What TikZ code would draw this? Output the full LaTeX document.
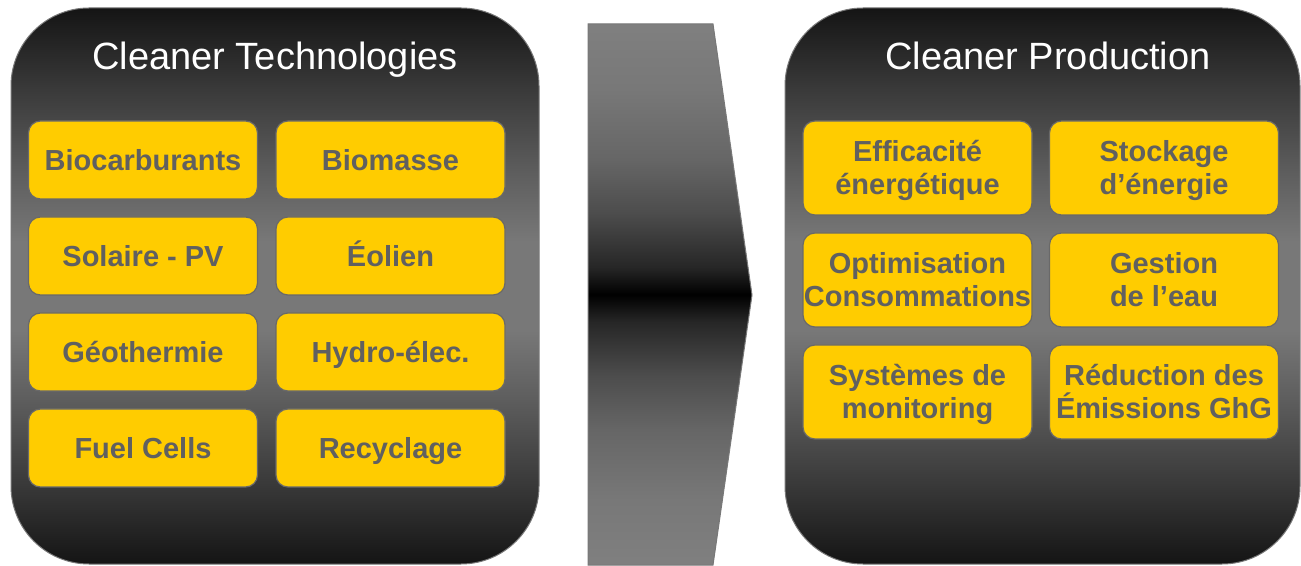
\documentclass[tikz,border=0pt]{standalone}
\usepackage{fontspec}
\setmainfont{Liberation Sans}
\definecolor{cellfill}{RGB}{255,204,0}
\definecolor{celltext}{RGB}{96,96,96}
\definecolor{cellline}{RGB}{105,105,105}
\definecolor{panelline}{RGB}{120,120,120}
\pgfdeclareverticalshading{panelshade}{100bp}{rgb(0bp)=(.08,.08,.08); rgb(25bp)=(.08,.08,.08); rgb(32.5bp)=(.23,.23,.23); rgb(40bp)=(.37,.37,.37); rgb(46bp)=(.47,.47,.47); rgb(54bp)=(.47,.47,.47); rgb(60bp)=(.37,.37,.37); rgb(67.5bp)=(.23,.23,.23); rgb(75bp)=(.08,.08,.08); rgb(100bp)=(.08,.08,.08)}
\pgfdeclareverticalshading{arrowshade}{100bp}{rgb(0bp)=(.5,.5,.5); rgb(25bp)=(.5,.5,.5); rgb(31bp)=(.47,.47,.47); rgb(37.5bp)=(.4,.4,.4); rgb(42.5bp)=(.3,.3,.3); rgb(47.5bp)=(.15,.15,.15); rgb(50bp)=(0,0,0); rgb(52.5bp)=(.15,.15,.15); rgb(57.5bp)=(.3,.3,.3); rgb(62.5bp)=(.4,.4,.4); rgb(69bp)=(.47,.47,.47); rgb(75bp)=(.5,.5,.5); rgb(100bp)=(.5,.5,.5)}
\begin{document}
\begin{tikzpicture}[x=1pt,y=1pt,
    panel/.style={draw=panelline,line width=1pt,rounded corners=78pt,shading=panelshade},
    arrowfill/.style={draw=panelline,line width=1pt,shading=arrowshade},
    title/.style={text=white,font=\fontsize{38}{44}\selectfont,anchor=base,inner sep=0pt},
    cell/.style={draw=cellline,line width=1.2pt,fill=cellfill,rounded corners=12pt,text=celltext,
        font=\fontsize{29}{33}\selectfont\bfseries,align=center,inner sep=0pt,minimum width=229pt},
    techcell/.style={cell,minimum height=78pt,text height=21pt,text depth=0pt},
    prodcell/.style={cell,minimum height=94pt,text height=54pt,text depth=0pt}]
    \useasboundingbox (0,0) rectangle (1301,565);

    % Define arrow corners
    \coordinate (A) at (588,541); \coordinate (B) at (713,541); \coordinate (C) at (752,270); \coordinate (D) at (713,0); \coordinate (E) at (588,0);

    % Draw panels
    \shade[panel] (11,1) rectangle (539,557);
    \shade[panel] (785,1) rectangle (1300,557);

    % Draw middle arrow
    \shade[arrowfill] (A)--(B)--(C)--(D)--(E)--cycle;

    % Add panel titles
    \node[title] (techtitle) at (275,495) {Cleaner Technologies};
    \node[title] (prodtitle) at (1048,495) {Cleaner Production};

    % Technology cells
    \node[techcell] (biocarb) at (143,405) {Biocarburants};
    \node[techcell] (biomasse) at (390.5,405) {Biomasse};
    \node[techcell] (solaire) at (143,309) {Solaire - PV};
    \node[techcell] (eolien) at (390.5,309) {Éolien};
    \node[techcell] (geo) at (143,213) {Géothermie};
    \node[techcell] (hydro) at (390.5,213) {Hydro-élec.};
    \node[techcell] (fuel) at (143,117) {Fuel Cells};
    \node[techcell] (recycl) at (390.5,117) {Recyclage};

    % Production cells
    \node[prodcell] (effic) at (917.5,397) {Efficacité\\énergétique};
    \node[prodcell] (stock) at (1164,397) {Stockage\\d’énergie};
    \node[prodcell] (optim) at (917.5,285) {Optimisation\\Consommations};
    \node[prodcell] (eau) at (1164,285) {Gestion\\de l’eau};
    \node[prodcell] (monit) at (917.5,173) {Systèmes de\\monitoring};
    \node[prodcell] (ghg) at (1164,173) {Réduction des\\Émissions GhG};

  \end{tikzpicture}
\end{document}
